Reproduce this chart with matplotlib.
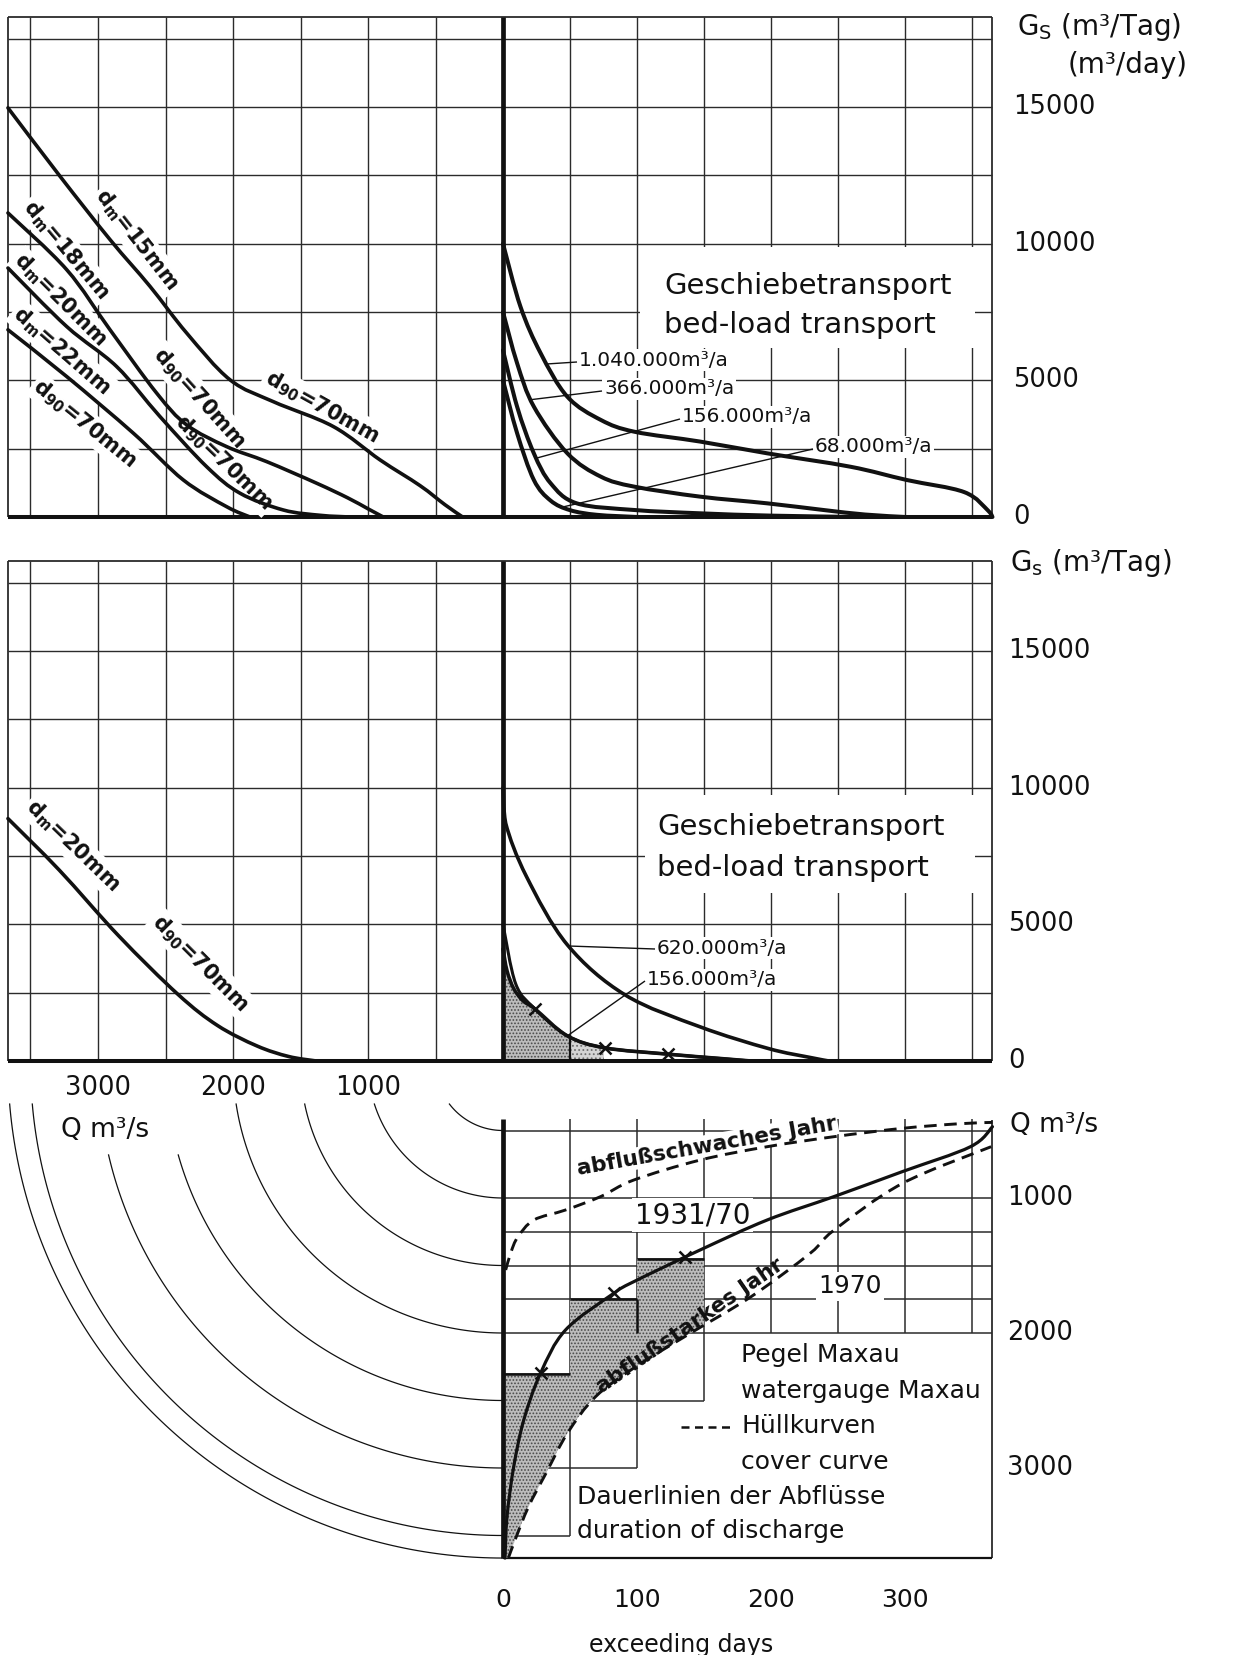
import numpy as np
import matplotlib
matplotlib.use("Agg")
import matplotlib.pyplot as plt
from matplotlib.path import Path
from matplotlib.patches import PathPatch, Rectangle

plt.rcParams["font.family"] = ["DejaVu Sans"]
plt.rcParams["mathtext.fontset"] = "dejavusans"
plt.rcParams["hatch.linewidth"] = 0.8

# ------------------------------------------------------------------ data
# Upper diagram, left half: bed-load transport Gs (m3/Tag) over discharge Q (m3/s)
dm15_q = [3667, 3281, 2911, 2615, 2343, 2022, 1701, 1257, 911, 615, 430, 299]
dm15_gs = [14970, 12465, 10150, 8440, 6730, 5020, 4220, 3310, 2090, 1150, 450, 0]
dm18_q = [3667, 3232, 2911, 2565, 2343, 2047, 1750, 1380, 1150, 1000, 887]
dm18_gs = [11125, 9050, 6850, 4530, 3370, 2575, 2025, 1235, 700, 300, 0]
dm20_q = [3667, 3232, 2862, 2541, 2195, 1948, 1627, 1350, 1135]
dm20_gs = [9110, 6970, 5505, 3675, 1840, 870, 256, 60, 0]
dm22_q = [3667, 3232, 2738, 2368, 2047, 1874]
dm22_gs = [6850, 5140, 3066, 1355, 377, 0]

# Upper diagram, right half: Gs over exceeding days, one line per annual load
load1040_days = [0, 13, 28, 48, 73, 98, 147, 197, 259, 301, 344, 362, 365]
load1040_gs = [10000, 7700, 6000, 4400, 3550, 3120, 2760, 2330, 1840, 1355, 910, 220, 0]
load366_days = [0, 10.5, 23, 48, 73, 98, 147, 197, 239, 270, 300]
load366_gs = [7500, 5630, 4040, 2330, 1475, 1110, 745, 500, 256, 90, 0]
load156_days = [0, 10.5, 23, 35.5, 55, 98, 147, 200, 265]
load156_gs = [6100, 4040, 2330, 1235, 500, 256, 135, 50, 0]
load68_days = [0, 10.5, 23, 35.5, 50, 70, 100]
load68_gs = [5000, 3070, 1355, 600, 250, 80, 0]
top_load_labels = ["1.040.000m³/a", "366.000m³/a", "156.000m³/a", "68.000m³/a"]

# Middle diagram, left half: dm = 20 mm, d90 = 70 mm
mid_q = [3667, 3286, 2847, 2407, 2115, 1822, 1588, 1383]
mid_gs = [8870, 6980, 4580, 2435, 1300, 550, 165, 0]

# Middle diagram, right half
load620_days = [0, 2, 17.5, 48, 91, 147, 198, 229, 243]
load620_gs = [10000, 8700, 6750, 4250, 2420, 1250, 455, 130, 0]
mload156_days = [0, 9.5, 24, 48, 76, 123, 160, 185]
mload156_gs = [5000, 2820, 1900, 920, 480, 250, 100, 0]
model_days = [0, 3, 8, 15, 24, 48, 76, 123, 160, 185]
model_gs = [4100, 3300, 2650, 2200, 1900, 920, 480, 250, 100, 0]
mid_load_labels = ["620.000m³/a", "156.000m³/a"]
mid_marker_days = [24, 76, 123]

# Lower diagram: duration lines of discharge, Pegel Maxau
dur_days = [1.5, 3, 8, 15.5, 28, 46.6, 82.6, 97.5, 147, 197, 246.7, 297.7, 348.6, 365]
dur_q = [3667, 3360, 2990, 2644, 2298, 1978, 1706, 1620, 1385, 1163, 990, 805, 620, 472]
dry_days = [2, 6, 11, 23, 46.6, 72.7, 97.5, 147, 197, 246.7, 297.7, 340, 365]
dry_q = [1533, 1400, 1290, 1163, 1089, 990, 867, 719, 620, 546, 484, 450, 440]
wet_days = [4, 9, 19, 32, 48, 69, 99, 140, 185, 229, 247, 298, 364]
wet_q = [3667, 3533, 3287, 3040, 2743, 2472, 2250, 2000, 1731, 1410, 1237, 891, 620]
dur_marker_days = [28, 82.6, 136]
# discharge steps of the model hydrograph (shaded)
step_days = [0, 50, 50, 100, 100, 150, 150, 0]
step_q = [2300, 2300, 1750, 1750, 1450, 1450, 3667, 3667]

# radii (m3/s) of the arcs carrying Q from the vertical to the horizontal axis
arc_q = [500, 1000, 1500, 2000, 2500, 3000, 3500, 3667]

gs_ticks = [0, 5000, 10000, 15000]
q_ticks = [1000, 2000, 3000]
day_ticks = [0, 100, 200, 300]

# ------------------------------------------------------------------ layout
W, H = 1239, 1655
X0 = 503.0          # pixel column of the common origin
QPX = 0.135         # px per m3/s
DPX = 1.341         # px per day
GPX = 0.02733       # px per m3/Tag
QMAX, DMAX, GMAX = 3667, 365, 18300
XL = X0 - QMAX * QPX
XR = X0 + DMAX * DPX
TOP0, MID0, BOT0 = 517.0, 1061.0, 1063.0

INK = "#111111"
GRID = "#2b2b2b"
SHADE = "#bcbcbc"
DOT = "#4a4a4a"

fig = plt.figure(figsize=(W / 100, H / 100), dpi=100)
fig.patch.set_facecolor("white")


def add_ax(x0, y0, x1, y1):
    a = fig.add_axes([x0 / W, 1 - y1 / H, (x1 - x0) / W, (y1 - y0) / H])
    a.set_axis_off()
    a.patch.set_visible(False)
    return a


ax_tl = add_ax(XL, TOP0 - GMAX * GPX, X0, TOP0)
ax_tr = add_ax(X0, TOP0 - GMAX * GPX, XR, TOP0)
ax_ml = add_ax(XL, MID0 - GMAX * GPX, X0, MID0)
ax_mr = add_ax(X0, MID0 - GMAX * GPX, XR, MID0)
ax_bl = add_ax(XL, BOT0, X0, BOT0 + QMAX * QPX)
ax_br = add_ax(X0, BOT0, XR, BOT0 + QMAX * QPX)

for a in (ax_tl, ax_ml):
    a.set_xlim(QMAX, 0)
    a.set_ylim(0, GMAX)
for a in (ax_tr, ax_mr):
    a.set_xlim(0, DMAX)
    a.set_ylim(0, GMAX)
ax_bl.set_xlim(QMAX, 0)
ax_bl.set_ylim(QMAX, 0)
ax_br.set_xlim(0, DMAX)
ax_br.set_ylim(QMAX, 0)


def fxy(x, y):
    return x / W, 1.0 - y / H


def label(ax, x, y, s, **kw):
    kw.setdefault("color", INK)
    kw.setdefault("zorder", 5)
    return ax.text(*fxy(x, y), s, transform=fig.transFigure, **kw)


def px2data(ax, x, y):
    return ax.transData.inverted().transform((x, H - y))


def line(ax, xs, ys, lw=1.0, color=GRID, z=1, **kw):
    ax.plot(xs, ys, lw=lw, color=color, zorder=z, clip_on=False,
            solid_capstyle="butt", **kw)


def smooth_path(xs, ys):
    p = np.column_stack([xs, ys]).astype(float)
    n = len(p)
    verts, codes = [p[0]], [Path.MOVETO]
    for i in range(n - 1):
        a = p[i - 1] if i > 0 else p[i]
        b, c = p[i], p[i + 1]
        d = p[i + 2] if i + 2 < n else p[i + 1]
        lo, hi = np.minimum(b, c), np.maximum(b, c)
        c1 = np.clip(b + (c - a) / 6.0, lo, hi)
        c2 = np.clip(c - (d - b) / 6.0, lo, hi)
        verts += [c1, c2, c]
        codes += [Path.CURVE4] * 3
    return Path(verts, codes)


def curve(ax, xs, ys, lw=2.8, ls="-", z=4):
    pth = smooth_path(xs, ys)
    ax.add_patch(PathPatch(pth, fill=False, lw=lw, ls=ls, ec=INK, zorder=z,
                           capstyle="round" if ls == "-" else "butt",
                           joinstyle="round", clip_on=False))
    return pth


def closed(pth, extra):
    v = list(pth.vertices) + list(extra) + [extra[-1]]
    c = list(pth.codes) + [Path.LINETO] * len(extra) + [Path.CLOSEPOLY]
    return Path(v, c)


def polygon(xs, ys):
    v = list(zip(xs, ys)) + [(xs[0], ys[0])]
    c = [Path.MOVETO] + [Path.LINETO] * (len(xs) - 1) + [Path.CLOSEPOLY]
    return Path(v, c)


white_box = dict(boxstyle="square,pad=0.12", fc="white", ec="none")

# ------------------------------------------------------------------ grids of the two Gs diagrams
for axl, axr in ((ax_tl, ax_tr), (ax_ml, ax_mr)):
    for q in range(500, 3501, 500):
        line(axl, [q, q], [0, GMAX])
    for d in range(50, 351, 50):
        line(axr, [d, d], [0, GMAX])
    for g in range(2500, 17501, 2500):
        line(axl, [QMAX, 0], [g, g])
        line(axr, [0, DMAX], [g, g])
    line(axl, [QMAX, QMAX], [0, GMAX], lw=1.3)
    line(axr, [DMAX, DMAX], [0, GMAX], lw=1.3)
    line(axl, [QMAX, 0], [GMAX, GMAX], lw=1.3)
    line(axr, [0, DMAX], [GMAX, GMAX], lw=1.3)
    line(axl, [QMAX, 0], [0, 0], lw=2.9, color=INK, z=3)
    line(axr, [0, DMAX], [0, 0], lw=2.9, color=INK, z=3)
    line(axr, [0, 0], [0, GMAX], lw=3.4, color=INK, z=3)

# ------------------------------------------------------------------ upper diagram
for qs, gs in ((dm15_q, dm15_gs), (dm18_q, dm18_gs), (dm20_q, dm20_gs), (dm22_q, dm22_gs)):
    curve(ax_tl, qs, gs, lw=2.6)

dm_lbl = dict(fontsize=15, fontweight="bold", ha="center", va="center",
              rotation_mode="anchor", bbox=white_box, zorder=3)
label(ax_tl, 137, 240, r"d$_\mathbf{m}$=15mm", rotation=-52, **dm_lbl)
label(ax_tl, 66, 250, r"d$_\mathbf{m}$=18mm", rotation=-50, **dm_lbl)
label(ax_tl, 60, 300, r"d$_\mathbf{m}$=20mm", rotation=-45, **dm_lbl)
label(ax_tl, 62, 351, r"d$_\mathbf{m}$=22mm", rotation=-41, **dm_lbl)
label(ax_tl, 322, 407, r"d$_\mathbf{90}$=70mm", rotation=-29, **dm_lbl)
label(ax_tl, 199, 398, r"d$_\mathbf{90}$=70mm", rotation=-48, **dm_lbl)
label(ax_tl, 224, 462, r"d$_\mathbf{90}$=70mm", rotation=-44, **dm_lbl)
label(ax_tl, 85, 424, r"d$_\mathbf{90}$=70mm", rotation=-39, **dm_lbl)

top_sets = [(load1040_days, load1040_gs), (load366_days, load366_gs),
            (load156_days, load156_gs), (load68_days, load68_gs)]
for ds, gs in top_sets:
    curve(ax_tr, ds, gs, lw=2.9)

ax_tr.add_patch(Rectangle(fxy(640, 348), 335 / W, 101 / H, transform=fig.transFigure,
                          fc="white", ec="none", zorder=2))
label(ax_tr, 664, 286, "Geschiebetransport", fontsize=21, va="center")
label(ax_tr, 664, 325, "bed-load transport", fontsize=21, va="center")

top_text_pos = [(579, 360), (604, 389), (682, 417), (815, 447)]
top_lead_day = [33, 21, 25, 45]
for (ds, gs), txt, (tx, ty), ld in zip(top_sets, top_load_labels, top_text_pos, top_lead_day):
    label(ax_tr, tx, ty, txt, fontsize=14.5, va="center", ha="left",
          bbox=dict(boxstyle="square,pad=0.08", fc="white", ec="none"), zorder=3)
    sx, sy = px2data(ax_tr, tx - 2, ty + 2)
    line(ax_tr, [sx, ld], [sy, np.interp(ld, ds, gs)], lw=1.0, color=INK, z=4)

label(ax_tr, 1017, 27, r"G$_\mathrm{S}$ (m³/Tag)", fontsize=20, va="center")
label(ax_tr, 1068, 65, "(m³/day)", fontsize=20, va="center")
for g in gs_ticks:
    ax_tr.text(380.5, g, f"{g}", fontsize=18.5, va="center", ha="left", color=INK,
               clip_on=False)

# ------------------------------------------------------------------ middle diagram
curve(ax_ml, mid_q, mid_gs, lw=2.6)
label(ax_ml, 73, 846, r"d$_\mathbf{m}$=20mm", rotation=-44, **dm_lbl)
label(ax_ml, 200, 963, r"d$_\mathbf{90}$=70mm", rotation=-45, **dm_lbl)

model_path = smooth_path(model_days, model_gs)
under_model = closed(model_path, [(model_days[-1], 0), (0, 0)])
sh1 = PathPatch(under_model, fc=SHADE, hatch=".....", ec=DOT, lw=0, zorder=2)
ax_mr.add_patch(sh1)
sh1.set_clip_path(Rectangle((0, 0), 50, 4100, transform=ax_mr.transData))
sh2 = PathPatch(under_model, fc="#d4d4d4", hatch="....", ec="#707070", lw=0, zorder=2)
ax_mr.add_patch(sh2)
sh2.set_clip_path(Rectangle((50, 0), 25, 1200, transform=ax_mr.transData))
line(ax_mr, [50, 50], [0, 950], lw=1.6, color=INK, z=3)

curve(ax_mr, load620_days, load620_gs, lw=2.6)
curve(ax_mr, mload156_days, mload156_gs, lw=2.2)
curve(ax_mr, model_days, model_gs, lw=2.6)
ax_mr.plot(mid_marker_days, np.interp(mid_marker_days, mload156_days, mload156_gs),
           "x", ms=9, mew=1.8, color=INK, zorder=5, clip_on=False)

ax_mr.add_patch(Rectangle(fxy(645, 893), 330 / W, 98 / H, transform=fig.transFigure,
                          fc="white", ec="none", zorder=2))
label(ax_mr, 657, 827, "Geschiebetransport", fontsize=21, va="center")
label(ax_mr, 657, 868, "bed-load transport", fontsize=21, va="center")

mid_sets = [(load620_days, load620_gs), (mload156_days, mload156_gs)]
mid_text_pos = [(657, 948), (647, 980)]
mid_lead_day = [49, 48]
for (ds, gs), txt, (tx, ty), ld in zip(mid_sets, mid_load_labels, mid_text_pos, mid_lead_day):
    label(ax_mr, tx, ty, txt, fontsize=14.5, va="center", ha="left",
          bbox=dict(boxstyle="square,pad=0.08", fc="white", ec="none"), zorder=3)
    sx, sy = px2data(ax_mr, tx - 2, ty + 1)
    line(ax_mr, [sx, ld], [sy, np.interp(ld, ds, gs)], lw=1.0, color=INK, z=4)

label(ax_mr, 1010, 563, r"G$_\mathrm{s}$ (m³/Tag)", fontsize=20, va="center")
for g in gs_ticks:
    ax_mr.text(377, g, f"{g}", fontsize=18.5, va="center", ha="left", color=INK,
               clip_on=False)

# ------------------------------------------------------------------ arcs (Q transfer)
for r in arc_q:
    dy = 681 if r in (2500, 3000) else 304
    t0 = np.arcsin(min(dy / r, 1.0))
    t = np.linspace(t0, np.pi / 2, 120)
    ax_bl.plot(r * np.cos(t), r * np.sin(t), lw=0.9, color=INK, zorder=2,
               clip_on=False)

for q in q_ticks:
    ax_bl.text(q, 185, f"{q}", fontsize=18.5, ha="center", va="center", color=INK)
label(ax_bl, 61, 1130, "Q m³/s", fontsize=19, va="center")

# ------------------------------------------------------------------ lower diagram grid
bottom_h = [(500, 0, 365), (1000, 0, 365), (1250, 0, 365), (1500, 0, 365),
            (1750, 0, 365), (2000, 0, 365), (2300, 0, 50), (2500, 0, 150),
            (3000, 0, 100), (3500, 0, 50), (1450, 100, 150)]
bottom_v = [(50, 415, 3500), (100, 415, 3000), (150, 415, 2500), (200, 415, 2000),
            (250, 415, 2000), (300, 415, 2000), (350, 415, 2000)]
for q, d0, d1 in bottom_h:
    line(ax_br, [d0, d1], [q, q], lw=1.1)
for d, q0, q1 in bottom_v:
    line(ax_br, [d, d], [q0, q1], lw=1.1)
line(ax_br, [DMAX, DMAX], [425, QMAX], lw=1.3)
line(ax_br, [0, DMAX], [QMAX, QMAX], lw=1.6, color=INK)
line(ax_br, [0, 0], [415, QMAX], lw=3.4, color=INK, z=3)

# shaded model steps, bounded by the wet-year envelope
wet_path = smooth_path(wet_days, wet_q)
left_of_wet = closed(wet_path, [(DMAX, 0), (0, 0), (0, wet_q[0])])
steps = PathPatch(polygon(step_days, step_q), fc=SHADE, hatch=".....", ec=DOT,
                  lw=0, zorder=2)
ax_br.add_patch(steps)
steps.set_clip_path(PathPatch(left_of_wet, transform=ax_br.transData))
line(ax_br, [50, 100], [1750, 1750], lw=1.8, color=INK, z=3)
line(ax_br, [100, 150], [1450, 1450], lw=1.8, color=INK, z=3)
line(ax_br, [0, 50], [2300, 2300], lw=1.8, color=INK, z=3)
line(ax_br, [100, 100], [1750, 2000], lw=1.8, color=INK, z=3)

curve(ax_br, dur_days, dur_q, lw=2.3)
curve(ax_br, dry_days, dry_q, lw=2.1, ls=(0, (4.3, 2.6)))
curve(ax_br, wet_days, wet_q, lw=2.1, ls=(0, (4.3, 2.6)))
ax_br.plot(dur_marker_days, np.interp(dur_marker_days, dur_days, dur_q), "x",
           ms=9, mew=1.8, color=INK, zorder=5, clip_on=False)

label(ax_br, 707, 1146, "abflußschwaches Jahr", fontsize=15.5, fontweight="bold",
      rotation=10, ha="center", va="center", rotation_mode="anchor",
      bbox=dict(boxstyle="square,pad=0.05", fc="white", ec="none"), zorder=3)
label(ax_br, 690, 1326, "abflußstarkes Jahr", fontsize=15.5, fontweight="bold",
      rotation=34.5, ha="center", va="center", rotation_mode="anchor")
label(ax_br, 635, 1215, "1931/70", fontsize=20, va="center",
      bbox=dict(boxstyle="square,pad=0.1", fc="white", ec="none"), zorder=3)
label(ax_br, 818, 1286, "1970", fontsize=18, va="center",
      bbox=dict(boxstyle="square,pad=0.1", fc="white", ec="none"), zorder=3)

label(ax_br, 741, 1355, "Pegel Maxau", fontsize=18, va="center")
label(ax_br, 741, 1391, "watergauge Maxau", fontsize=18, va="center")
ax_br.plot([681 / W, 732 / W], [1 - 1427 / H] * 2, transform=fig.transFigure,
           lw=1.8, color=INK, ls=(0, (3.2, 2.2)), zorder=5, clip_on=False)
label(ax_br, 741, 1426, "Hüllkurven", fontsize=18, va="center")
label(ax_br, 741, 1462, "cover curve", fontsize=18, va="center")
label(ax_br, 577, 1497, "Dauerlinien der Abflüsse", fontsize=18, va="center")
label(ax_br, 577, 1531, "duration of discharge", fontsize=18, va="center")

label(ax_br, 1010, 1125, "Q m³/s", fontsize=19, va="center")
for q in q_ticks:
    ax_br.text(376, q, f"{q}", fontsize=18.5, va="center", ha="left", color=INK,
               clip_on=False)
for d in day_ticks:
    ax_br.text(d, 3978, f"{d}", fontsize=18, ha="center", va="center", color=INK,
               clip_on=False)
label(ax_br, 681, 1645, "exceeding days", fontsize=17, ha="center", va="center")

fig.savefig("out.png", dpi=100, facecolor="white")
